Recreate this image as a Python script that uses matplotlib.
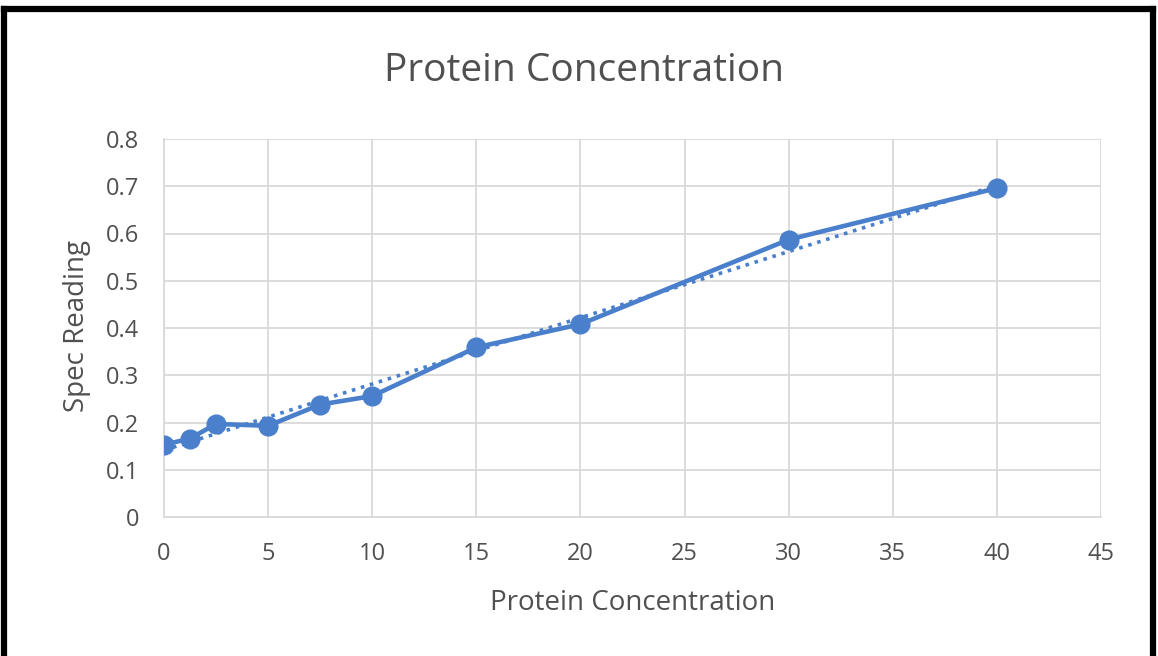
import numpy as np
import matplotlib
matplotlib.use("Agg")
import matplotlib.pyplot as plt
from matplotlib.lines import Line2D

concentration = [0, 1.25, 2.5, 5, 7.5, 10, 15, 20, 30, 40]
spec_reading = [0.153, 0.166, 0.197, 0.193, 0.238, 0.256, 0.359, 0.408, 0.587, 0.696]
x_ticks = [0, 5, 10, 15, 20, 25, 30, 35, 40, 45]
y_ticks = [0, 0.1, 0.2, 0.3, 0.4, 0.5, 0.6, 0.7, 0.8]
y_tick_labels = ["0", "0.1", "0.2", "0.3", "0.4", "0.5", "0.6", "0.7", "0.8"]

plt.rcParams['font.family'] = ['Open Sans', 'DejaVu Sans']
plt.rcParams['font.weight'] = 'medium'
W, H = 1158, 656
fig = plt.figure(figsize=(W / 100, H / 100), dpi=100)
ax = fig.add_axes([164 / W, 1 - 517 / H, (1101 - 164) / W, (517 - 139) / H])

blue = '#4A7FCC'
text_col = '#505050'
grid_col = '#D9D9D9'

# linear trendline
coef = np.polyfit(concentration, spec_reading, 1)
xt = np.array([min(concentration), max(concentration)])
ax.plot(xt, np.polyval(coef, xt), linestyle=(0, (1, 1.6)), color=blue, lw=2.6, zorder=2)

ax.plot(concentration, spec_reading, color=blue, lw=3.3, marker='o', markersize=13.5, zorder=3)

ax.set_xlim(0, 45)
ax.set_ylim(0, 0.8)
ax.set_xticks(x_ticks)
ax.set_yticks(y_ticks)
ax.set_yticklabels(y_tick_labels)
ax.grid(True, color=grid_col, lw=1.3)
ax.set_axisbelow(True)
for s in ['top', 'right']:
    ax.spines[s].set_visible(False)
for s in ['left', 'bottom']:
    ax.spines[s].set_color(grid_col)
    ax.spines[s].set_linewidth(1.3)
ax.tick_params(length=0, labelsize=17, colors=text_col)
ax.tick_params(axis='x', pad=18)
ax.tick_params(axis='y', pad=18)

ax.set_xlabel('Protein Concentration', fontsize=20, color=text_col, va='center', ha='center')
ax.xaxis.set_label_coords((632.5 - 164) / 937, (517 - 603) / 378)
ax.set_ylabel('Spec Reading', fontsize=20, color=text_col, va='center', ha='center')
ax.yaxis.set_label_coords((77 - 164) / 937, (517 - 326.5) / 378)

fig.text(584 / W, 1 - 81 / H, 'Protein Concentration', fontsize=28, color=text_col,
         ha='center', va='baseline')

# black frame
lw = 4.5
fig.add_artist(Line2D([4 / W, 4 / W], [0, 1 - 9 / H], color='black', lw=lw, transform=fig.transFigure))
fig.add_artist(Line2D([4 / W, 1153 / W], [1 - 9 / H, 1 - 9 / H], color='black', lw=lw, transform=fig.transFigure))
fig.add_artist(Line2D([1153 / W, 1153 / W], [0, 1 - 9 / H], color='black', lw=lw, transform=fig.transFigure))

fig.savefig('out.png', dpi=100, facecolor='white')
